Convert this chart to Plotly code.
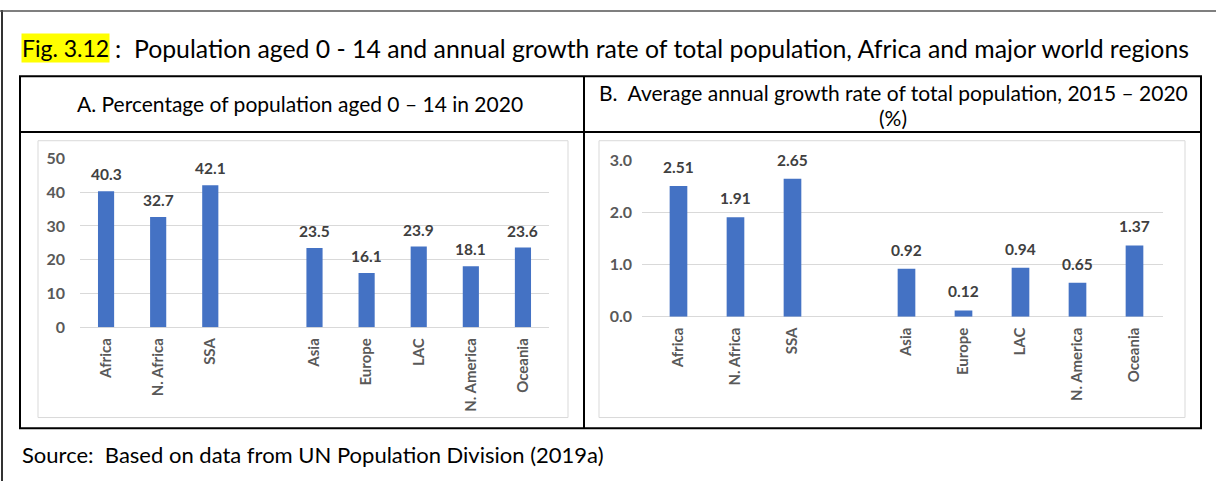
import plotly.graph_objects as go

# Regions and values
regions = ["Africa", "N. Africa", "SSA", "Asia", "Europe", "LAC", "N. America", "Oceania"]
share_0_14 = [40.3, 32.7, 42.1, 23.5, 16.1, 23.9, 18.1, 23.6]          # % of population aged 0-14, 2020
growth_rate = [2.51, 1.91, 2.65, 0.92, 0.12, 0.94, 0.65, 1.37]         # avg annual growth 2015-2020, %
ticks_a = [0, 10, 20, 30, 40, 50]
ticks_b = [0.0, 1.0, 2.0, 3.0]

# Africa group, one empty slot, then the other world regions
axis_order = regions[:3] + [" "] + regions[3:]

W, H = 1216, 490
BLUE = "#4472C4"
GRID = "#d9d9d9"
TICK_C = "#595959"
LABEL_C = "#404040"
FONT = "Lato"


def fx(x):
    return x / W


def fy(y):
    return 1 - y / H


fig = go.Figure()

fig.add_trace(go.Bar(x=regions, y=share_0_14, width=0.31, marker_color=BLUE,
                     marker_line_width=0, xaxis="x", yaxis="y", hoverinfo="x+y"))
fig.add_trace(go.Bar(x=regions, y=growth_rate, width=0.31, marker_color=BLUE,
                     marker_line_width=0, xaxis="x2", yaxis="y2", hoverinfo="x+y"))

annotations = []
for r, v in zip(regions, share_0_14):
    annotations.append(dict(x=r, y=v, xref="x", yref="y", text=f"<b>{v:.1f}</b>",
                            showarrow=False, yanchor="bottom", yshift=6,
                            font=dict(family=FONT, size=15.5, color=LABEL_C)))
for r, v in zip(regions, growth_rate):
    annotations.append(dict(x=r, y=v, xref="x2", yref="y2", text=f"<b>{v:.2f}</b>",
                            showarrow=False, yanchor="bottom", yshift=8,
                            font=dict(family=FONT, size=15.5, color=LABEL_C)))

# Title, panel headers and source note
annotations += [
    dict(x=fx(21), y=fy(40), xref="paper", yref="paper", text="Fig. 3.12",
         showarrow=False, xanchor="left", yanchor="middle", bgcolor="#ffff00",
         borderpad=0, font=dict(family=FONT, size=23, color="#000000")),
    dict(x=fx(113), y=fy(40), xref="paper", yref="paper",
         text=":\u00a0\u00a0Population aged 0 - 14 and annual growth rate of total population, Africa and major world regions",
         showarrow=False, xanchor="left", yanchor="middle",
         font=dict(family=FONT, size=24.8, color="#000000")),
    dict(x=fx(300), y=fy(97), xref="paper", yref="paper",
         text="A. Percentage of population aged 0 \u2013 14 in 2020",
         showarrow=False, xanchor="center", yanchor="middle",
         font=dict(family=FONT, size=21, color="#000000")),
    dict(x=fx(893), y=fy(86), xref="paper", yref="paper",
         text="B.\u00a0\u00a0Average annual growth rate of total population, 2015 \u2013 2020",
         showarrow=False, xanchor="center", yanchor="middle",
         font=dict(family=FONT, size=21, color="#000000")),
    dict(x=fx(893), y=fy(112), xref="paper", yref="paper", text="(%)",
         showarrow=False, xanchor="center", yanchor="middle",
         font=dict(family=FONT, size=21, color="#000000")),
    dict(x=fx(20), y=fy(462), xref="paper", yref="paper",
         text="Source:\u00a0\u00a0Based on data from UN Population Division (2019a)",
         showarrow=False, xanchor="left", yanchor="middle",
         font=dict(family=FONT, size=22, color="#000000")),
]


def line(x0, y0, x1, y1, color="#000000", width=2):
    return dict(type="line", xref="paper", yref="paper",
                x0=fx(x0), y0=fy(y0), x1=fx(x1), y1=fy(y1),
                line=dict(color=color, width=width), layer="below")


def rect(x0, y0, x1, y1, color, width):
    return dict(type="rect", xref="paper", yref="paper",
                x0=fx(x0), y0=fy(y0), x1=fx(x1), y1=fy(y1),
                line=dict(color=color, width=width), fillcolor="rgba(0,0,0,0)", layer="below")


shapes = [
    line(2, 0, 2, H, "#333333", 2),
    line(0, 1, W, 1, "#555555", 1.5),
    rect(20, 69, 1201, 435, "#000000", 2),
    line(584, 69, 584, 435),
    line(20, 127, 1201, 127),
    rect(38, 136, 568, 424, GRID, 1),
    rect(599, 136, 1185, 424, GRID, 1),
]

ytick_font = dict(family=FONT, size=16, color=TICK_C)
xtick_font = dict(family=FONT, size=15, color=TICK_C)

xcommon = dict(type="category", categoryorder="array", categoryarray=axis_order,
               tickangle=-90, showgrid=False, zeroline=False, showline=False,
               ticks="", tickfont=xtick_font, ticklabelstandoff=7, fixedrange=True)

fig.update_layout(
    width=W, height=H, margin=dict(l=0, r=0, t=0, b=0),
    paper_bgcolor="#ffffff", plot_bgcolor="rgba(0,0,0,0)",
    showlegend=False,
    font=dict(family=FONT),
    xaxis=dict(domain=[fx(80), fx(549)], range=[-0.5, 8.5], anchor="y",
               tickvals=regions, ticktext=[f"<b>{r}</b>" for r in regions], **xcommon),
    yaxis=dict(domain=[fy(330), fy(154.5)], range=[0, 50], anchor="x",
               tickvals=ticks_a, ticktext=[f"<b>{t}</b>" for t in ticks_a],
               showgrid=True, gridcolor=GRID, gridwidth=1,
               zeroline=True, zerolinecolor=GRID, zerolinewidth=1,
               showline=False, ticks="", tickfont=ytick_font, ticklabelstandoff=14,
               fixedrange=True),
    xaxis2=dict(domain=[fx(642), fx(1163)], range=[-0.64, 8.5], anchor="y2",
                tickvals=regions, ticktext=[f"<b>{r}</b>" for r in regions], **xcommon),
    yaxis2=dict(domain=[fy(319), fy(156.7)], range=[0, 3], anchor="x2",
                tickvals=ticks_b, ticktext=[f"<b>{t:.1f}</b>" for t in ticks_b],
                showgrid=True, gridcolor=GRID, gridwidth=1,
                zeroline=True, zerolinecolor=GRID, zerolinewidth=1,
                showline=False, ticks="", tickfont=ytick_font, ticklabelstandoff=9,
                fixedrange=True),
    annotations=annotations,
    shapes=shapes,
)

fig.write_html("out.html")
